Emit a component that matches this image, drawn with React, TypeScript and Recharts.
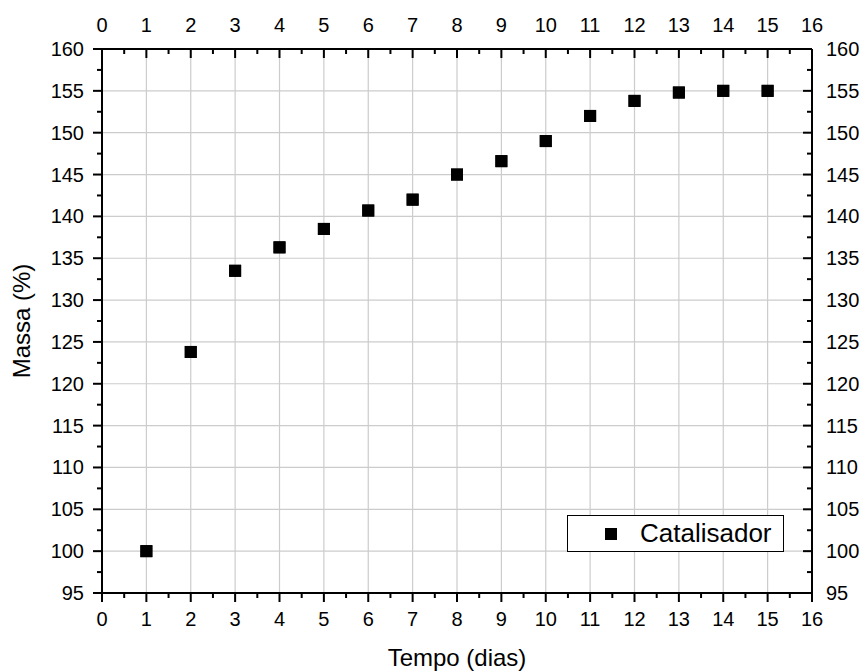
import React from 'react';
import { ScatterChart, Scatter, XAxis, YAxis, CartesianGrid } from 'recharts';

// dias de ensaio e massa relativa medida
const dias = [1, 2, 3, 4, 5, 6, 7, 8, 9, 10, 11, 12, 13, 14, 15];
const massa = [100, 123.8, 133.5, 136.3, 138.5, 140.7, 142, 145, 146.6, 149, 152, 153.8, 154.8, 155, 155];

const xTicks = [0, 1, 2, 3, 4, 5, 6, 7, 8, 9, 10, 11, 12, 13, 14, 15, 16];
const yTicks = [95, 100, 105, 110, 115, 120, 125, 130, 135, 140, 145, 150, 155, 160];

// minor ticks halfway between the major ones
const xAllTicks = xTicks.flatMap((v, i) => (i < xTicks.length - 1 ? [v, v + 0.5] : [v]));
const yAllTicks = yTicks.flatMap((v, i) => (i < yTicks.length - 1 ? [v, v + 2.5] : [v]));

const data = dias.map((d, i) => ({ dia: d, massa: massa[i] }));

const FONT = '"Liberation Sans", Arial, sans-serif';
const MAJOR = 9;
const MINOR = 5;

const isMajorX = (v: number) => xTicks.includes(v);
const isMajorY = (v: number) => yTicks.includes(v);

const BottomTick = ({ x, y, payload }: any) => {
  const major = isMajorX(payload.value);
  return (
    <g>
      <line x1={x} y1={y} x2={x} y2={y + (major ? MAJOR : MINOR)} stroke="#000" strokeWidth={2} />
      {major && (
        <text x={x} y={y + 33} textAnchor="middle" fontSize={20} fontFamily={FONT} fill="#000">
          {payload.value}
        </text>
      )}
    </g>
  );
};

const TopTick = ({ x, y, payload }: any) => {
  const major = isMajorX(payload.value);
  return (
    <g>
      <line x1={x} y1={y} x2={x} y2={y + (major ? MAJOR : MINOR)} stroke="#000" strokeWidth={2} />
      {major && (
        <text x={x} y={y - 17} textAnchor="middle" fontSize={20} fontFamily={FONT} fill="#000">
          {payload.value}
        </text>
      )}
    </g>
  );
};

const LeftTick = ({ x, y, payload }: any) => {
  const major = isMajorY(payload.value);
  return (
    <g>
      <line x1={x} y1={y} x2={x - (major ? MAJOR : MINOR)} y2={y} stroke="#000" strokeWidth={2} />
      {major && (
        <text x={x - 18} y={y + 7} textAnchor="end" fontSize={20} fontFamily={FONT} fill="#000">
          {payload.value}
        </text>
      )}
    </g>
  );
};

const RightTick = ({ x, y, payload }: any) => {
  const major = isMajorY(payload.value);
  return (
    <g>
      <line x1={x} y1={y} x2={x - (major ? MAJOR : MINOR)} y2={y} stroke="#000" strokeWidth={2} />
      {major && (
        <text x={x + 14} y={y + 7} textAnchor="start" fontSize={20} fontFamily={FONT} fill="#000">
          {payload.value}
        </text>
      )}
    </g>
  );
};

const XTitle = ({ viewBox }: any) => (
  <text
    x={viewBox.x + viewBox.width / 2}
    y={viewBox.y + viewBox.height - 6}
    textAnchor="middle"
    fontSize={24}
    fontFamily={FONT}
    fill="#000"
  >
    Tempo (dias)
  </text>
);

const YTitle = ({ viewBox }: any) => {
  const cx = viewBox.x + 30;
  const cy = viewBox.y + viewBox.height / 2;
  return (
    <text
      x={cx}
      y={cy}
      transform={`rotate(-90 ${cx} ${cy})`}
      textAnchor="middle"
      fontSize={24}
      fontFamily={FONT}
      fill="#000"
    >
      Massa (%)
    </text>
  );
};

const SquareDot = ({ cx, cy }: any) => <rect x={cx - 6} y={cy - 6} width={12} height={12} fill="#000" />;

export default function App() {
  return (
    <div style={{ position: 'absolute', left: 0, top: 0, width: 859, height: 672, background: '#fff' }}>
      <ScatterChart width={859} height={672} margin={{ top: 0, right: 0, bottom: 0, left: 0 }}>
        <CartesianGrid
          xAxisId="bottom"
          yAxisId="left"
          stroke="#cccccc"
          strokeWidth={1.2}
          verticalValues={xTicks}
          horizontalValues={yTicks}
        />
        <XAxis
          xAxisId="bottom"
          dataKey="dia"
          type="number"
          domain={[0, 16]}
          ticks={xAllTicks}
          interval={0}
          height={79}
          tickSize={0}
          tickMargin={0}
          tickLine={false}
          tick={<BottomTick />}
          axisLine={{ stroke: '#000', strokeWidth: 2 }}
          label={<XTitle />}
          allowDataOverflow
        />
        <XAxis
          xAxisId="top"
          dataKey="dia"
          orientation="top"
          type="number"
          domain={[0, 16]}
          ticks={xAllTicks}
          interval={0}
          height={49}
          tickSize={0}
          tickMargin={0}
          tickLine={false}
          tick={<TopTick />}
          axisLine={{ stroke: '#000', strokeWidth: 2 }}
          allowDataOverflow
        />
        <YAxis
          yAxisId="left"
          dataKey="massa"
          type="number"
          domain={[95, 160]}
          ticks={yAllTicks}
          interval={0}
          width={102}
          tickSize={0}
          tickMargin={0}
          tickLine={false}
          tick={<LeftTick />}
          axisLine={{ stroke: '#000', strokeWidth: 2 }}
          label={<YTitle />}
          allowDataOverflow
        />
        <YAxis
          yAxisId="right"
          dataKey="massa"
          orientation="right"
          type="number"
          domain={[95, 160]}
          ticks={yAllTicks}
          interval={0}
          width={47}
          tickSize={0}
          tickMargin={0}
          tickLine={false}
          tick={<RightTick />}
          axisLine={{ stroke: '#000', strokeWidth: 2 }}
          allowDataOverflow
        />
        <Scatter
          xAxisId="bottom"
          yAxisId="left"
          data={data}
          fill="#000"
          shape={<SquareDot />}
          isAnimationActive={false}
        />
        {/* same points on the top/right axes so those axes get their scales */}
        <Scatter
          xAxisId="top"
          yAxisId="right"
          data={data}
          fill="#000"
          shape={<SquareDot />}
          isAnimationActive={false}
        />
      </ScatterChart>
      <div
        style={{
          position: 'absolute',
          left: 567,
          top: 515,
          width: 215,
          height: 35,
          border: '1px solid #000',
          background: '#fff',
          boxSizing: 'content-box',
          fontFamily: FONT,
          fontSize: 26,
          display: 'flex',
          alignItems: 'center',
        }}
      >
        <span style={{ display: 'inline-block', width: 12, height: 12, background: '#000', marginLeft: 37 }} />
        <span style={{ marginLeft: 23, lineHeight: '35px' }}>Catalisador</span>
      </div>
    </div>
  );
}
